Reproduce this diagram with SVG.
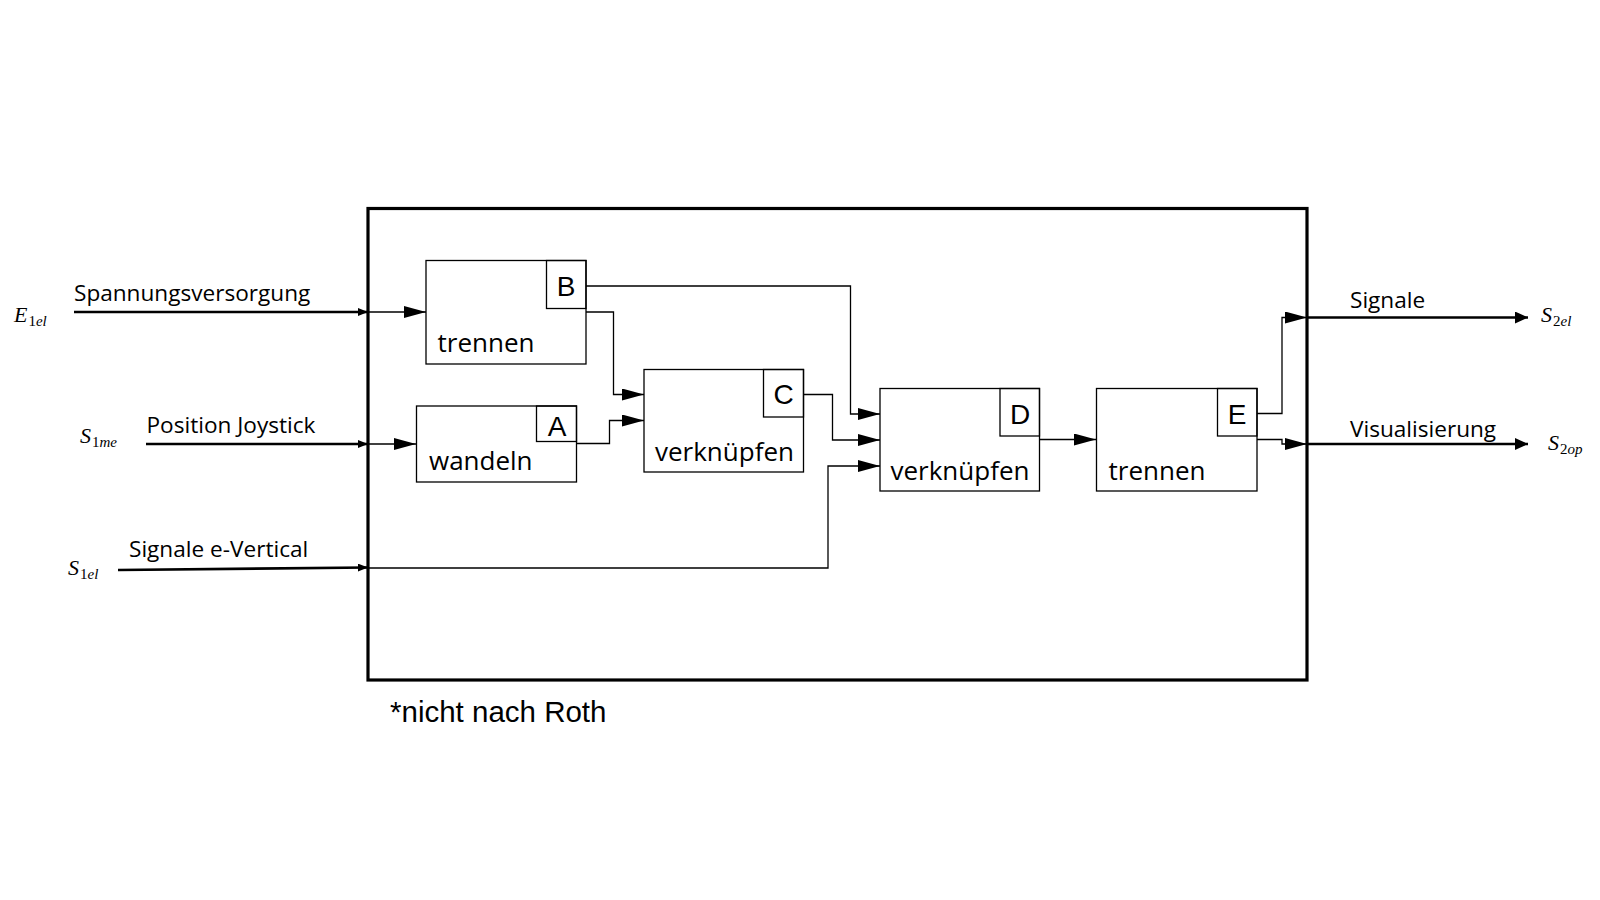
<svg xmlns="http://www.w3.org/2000/svg" width="1600" height="900" viewBox="0 0 1600 900">
<defs>
<marker id="big" markerUnits="userSpaceOnUse" markerWidth="22" markerHeight="12" refX="22" refY="6" orient="auto"><path d="M0,0 L22,6 L0,12 z" fill="#000"/></marker>
<marker id="small" markerUnits="userSpaceOnUse" markerWidth="10" markerHeight="8" refX="10" refY="4" orient="auto"><path d="M0,0 L10,4 L0,8 z" fill="#000"/></marker>
<marker id="out" markerUnits="userSpaceOnUse" markerWidth="13" markerHeight="12" refX="13" refY="6" orient="auto"><path d="M0,0 L13,6 L0,12 z" fill="#000"/></marker>
</defs>
<style>
.box{fill:#fff;stroke:#000;stroke-width:1.3}
.tag{fill:none;stroke:#000;stroke-width:1.3}
.lbl{font-family:"Open Sans","Noto Sans",sans-serif;font-size:26px;fill:#000}
.let{font-family:"Liberation Sans",Arial,sans-serif;font-size:28px;fill:#000;text-anchor:middle}
.flow{font-family:"Open Sans","Noto Sans",sans-serif;font-size:22.6px;fill:#000}
.math{font-family:"Liberation Serif","Times New Roman",serif;font-style:italic;font-size:22px;fill:#000}
.sub{font-size:15px}
.up{font-style:normal}
.thin{fill:none;stroke:#000;stroke-width:1.3}
.thick{fill:none;stroke:#000;stroke-width:2.6}
</style>
<rect width="1600" height="900" fill="#fff"/>
<rect id="frame" x="368" y="208.5" width="939" height="471.5" fill="none" stroke="#000" stroke-width="3.2"/>

<g id="connectors">
<line class="thick" x1="74" y1="312" x2="368" y2="312" marker-end="url(#small)"/>
<line class="thick" x1="146" y1="444" x2="368" y2="444" marker-end="url(#small)"/>
<line class="thick" x1="118" y1="570" x2="368" y2="567.5" marker-end="url(#small)"/>
<line class="thin" x1="368" y1="312" x2="426" y2="312" marker-end="url(#big)"/>
<line class="thin" x1="368" y1="444" x2="416" y2="444" marker-end="url(#big)"/>
<path class="thin" d="M368,568 H828 V466 H880" marker-end="url(#big)"/>
<path class="thin" d="M586,286 H850.5 V414 H880" marker-end="url(#big)"/>
<path class="thin" d="M586,312 H613.5 V394.5 H644" marker-end="url(#big)"/>
<path class="thin" d="M576,443.5 H609.5 V420.5 H644" marker-end="url(#big)"/>
<path class="thin" d="M803,394.5 H832.5 V440 H880" marker-end="url(#big)"/>
<line class="thin" x1="1039" y1="439.5" x2="1096" y2="439.5" marker-end="url(#big)"/>
<path class="thin" d="M1257,413.5 H1282 V317.5 H1307" marker-end="url(#big)"/>
<path class="thin" d="M1257,439.5 H1282 V444 H1307" marker-end="url(#big)"/>
<line class="thick" x1="1307" y1="317.5" x2="1528" y2="317.5" marker-end="url(#out)"/>
<line class="thick" x1="1307" y1="444" x2="1528" y2="444" marker-end="url(#out)"/>
</g>

<g id="B">
<rect class="box" x="426" y="260.5" width="160" height="103.5"/>
<rect class="tag" x="546.5" y="260.5" width="39.5" height="48"/>
<text class="let" x="566" y="296">B</text>
<text class="lbl" x="437.5" y="351.5">trennen</text>
</g>
<g id="A">
<rect class="box" x="416.5" y="406" width="160" height="76"/>
<rect class="tag" x="536.5" y="406" width="40" height="35.5"/>
<text class="let" x="557" y="436">A</text>
<text class="lbl" x="429" y="470">wandeln</text>
</g>
<g id="C">
<rect class="box" x="644" y="369.5" width="159.5" height="102.5"/>
<rect class="tag" x="763.5" y="369.5" width="40" height="47.5"/>
<text class="let" x="783.5" y="404">C</text>
<text class="lbl" x="655" y="460.5">verknüpfen</text>
</g>
<g id="D">
<rect class="box" x="880" y="388.5" width="159.5" height="102.5"/>
<rect class="tag" x="1000" y="388.5" width="39.5" height="47.5"/>
<text class="let" x="1020" y="423.5">D</text>
<text class="lbl" x="890.5" y="479.5">verknüpfen</text>
</g>
<g id="E">
<rect class="box" x="1096.5" y="388.5" width="160.5" height="102.5"/>
<rect class="tag" x="1217.5" y="388.5" width="39.5" height="47.5"/>
<text class="let" x="1237" y="423.5">E</text>
<text class="lbl" x="1108.5" y="479.5">trennen</text>
</g>

<g id="labels">
<text class="flow" x="74" y="301">Spannungsversorgung</text>
<text class="flow" x="146.5" y="432.5">Position Joystick</text>
<text class="flow" x="129" y="557">Signale e-Vertical</text>
<text class="flow" x="1350" y="307.5">Signale</text>
<text class="flow" x="1350" y="436.5">Visualisierung</text>
<text class="math" x="14" y="321.5">E<tspan class="sub up" dx="1" dy="4">1</tspan><tspan class="sub">el</tspan></text>
<text class="math" x="80" y="443">S<tspan class="sub up" dx="1" dy="4">1</tspan><tspan class="sub">me</tspan></text>
<text class="math" x="68" y="575">S<tspan class="sub up" dx="1" dy="4">1</tspan><tspan class="sub">el</tspan></text>
<text class="math" x="1541" y="321.5">S<tspan class="sub up" dx="1" dy="4">2</tspan><tspan class="sub">el</tspan></text>
<text class="math" x="1548" y="449.5">S<tspan class="sub up" dx="1" dy="4">2</tspan><tspan class="sub">op</tspan></text>
<text x="390" y="721.5" font-family="Liberation Sans, Arial, sans-serif" font-size="29.5">*nicht nach Roth</text>
</g>
</svg>
